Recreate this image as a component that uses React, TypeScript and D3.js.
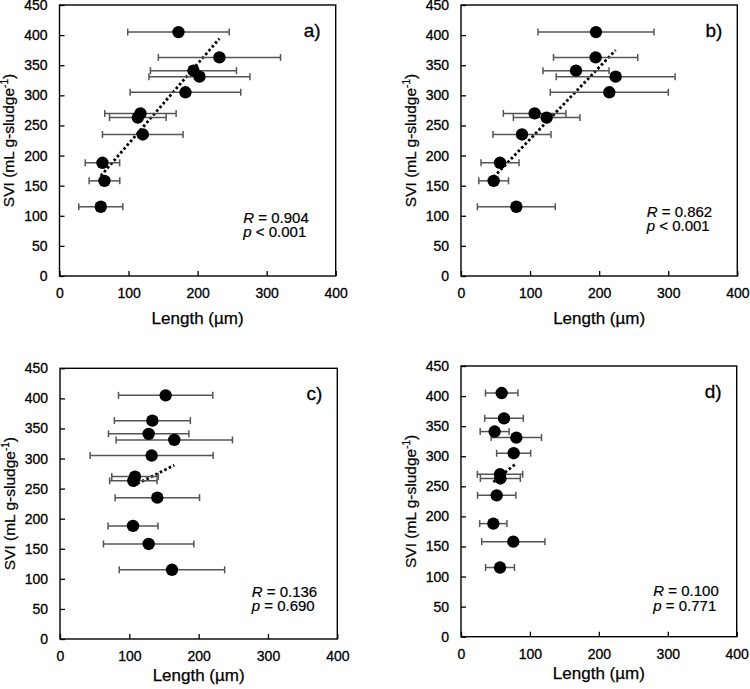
import React, { useRef, useEffect } from "react";
import * as d3 from "d3";

// SVI of the 11 samples (shared by all four panels)
const svi = [405, 363, 341, 331, 305, 270, 263, 235, 188, 158, 115];

// mean filament length and SD per panel
const lengthA = [172.3, 231.6, 194, 202.7, 182.4, 117.2, 113.4, 120.6, 62.2, 65.1, 59.8];
const sdA = [73.5, 88.5, 62.3, 73.1, 80.1, 51.7, 41, 58.4, 24.9, 22.2, 31.9];

const lengthB = [195.4, 194.9, 166.5, 223.9, 214.7, 106.6, 124, 88.3, 56.5, 47.3, 80.1];
const sdB = [84, 61, 47.8, 86.1, 85.4, 45.3, 48.2, 42, 27.5, 21.5, 56.4];

const lengthC = [152.4, 133.2, 127.9, 164.9, 132.2, 108.2, 105.8, 140.4, 105.3, 127.9, 161.5];
const sdC = [68, 54.8, 58, 83.9, 88.7, 33.5, 34.2, 60.9, 36, 65.2, 76];

const lengthD = [59, 62.4, 48.8, 80.3, 76.4, 56.6, 57.1, 51.8, 46.9, 75.9, 56.6];
const sdD = [23.5, 28, 21, 36.5, 24.7, 32.9, 29, 27.8, 19.8, 45.9, 21];

const panelLabels = ["a)", "b)", "c)", "d)"];
const rValues = ["0.904", "0.862", "0.136", "0.100"];
const pValues = ["< 0.001", "< 0.001", "= 0.690", "= 0.771"];

const xTicks = [0, 100, 200, 300, 400];
const yTicks = [0, 50, 100, 150, 200, 250, 300, 350, 400, 450];

// plot boxes in page pixels
const boxes = [
  { left: 59.5, right: 335.7, top: 5, bottom: 276, statDx: 92.4, statDy: 53.5, titleDy: 48 },
  { left: 461, right: 737.3, top: 5, bottom: 276, statDx: 90.6, statDy: 59.3, titleDy: 48 },
  { left: 60, right: 337.3, top: 368.3, bottom: 639, statDx: 85.6, statDy: 42.5, titleDy: 42 },
  { left: 461, right: 736.7, top: 366, bottom: 636.7, statDx: 83.4, statDy: 40.7, titleDy: 42 },
];

const FONT = "'Liberation Sans', Arial, sans-serif";

export default function App() {
  const svgRef = useRef<SVGSVGElement>(null);

  useEffect(() => {
    if (!svgRef.current) return;
    const svg = d3.select(svgRef.current);
    svg.selectAll("*").remove();

    const lengths = [lengthA, lengthB, lengthC, lengthD];
    const sds = [sdA, sdB, sdC, sdD];

    boxes.forEach((b, i) => {
      const xs = lengths[i];
      const sd = sds[i];
      const x = d3.scaleLinear().domain([0, 400]).range([b.left, b.right]);
      const y = d3.scaleLinear().domain([0, 450]).range([b.bottom, b.top]);
      const g = svg.append("g").attr("font-family", FONT);

      // frame
      g.append("rect")
        .attr("x", b.left).attr("y", b.top)
        .attr("width", b.right - b.left).attr("height", b.bottom - b.top)
        .attr("fill", "none").attr("stroke", "#000").attr("stroke-width", 1.4);

      // axes, ticks inside
      const xa = g.append("g").attr("transform", `translate(0,${b.bottom})`)
        .call(d3.axisBottom(x).tickValues(xTicks).tickSizeInner(-5).tickSizeOuter(0).tickPadding(12));
      xa.select(".domain").remove();
      xa.selectAll("line").attr("stroke", "#000").attr("stroke-width", 1.3);
      xa.selectAll("text").attr("font-size", 14).attr("font-family", FONT).attr("fill", "#000")
        .attr("stroke", "#000").attr("stroke-width", 0.3);

      const ya = g.append("g").attr("transform", `translate(${b.left},0)`)
        .call(d3.axisLeft(y).tickValues(yTicks).tickSizeInner(-5).tickSizeOuter(0).tickPadding(12));
      ya.select(".domain").remove();
      ya.selectAll("line").attr("stroke", "#000").attr("stroke-width", 1.3);
      ya.selectAll("text").attr("font-size", 14).attr("font-family", FONT).attr("fill", "#000")
        .attr("stroke", "#000").attr("stroke-width", 0.3);

      // axis titles
      g.append("text")
        .attr("x", (b.left + b.right) / 2).attr("y", b.bottom + b.titleDy)
        .attr("text-anchor", "middle").attr("font-size", 17)
        .attr("stroke", "#000").attr("stroke-width", 0.25)
        .text("Length (µm)");

      const yt = g.append("text")
        .attr("transform", `translate(${b.left - 45.5},${(b.top + b.bottom) / 2}) rotate(-90)`)
        .attr("text-anchor", "middle").attr("font-size", 15.5)
        .attr("stroke", "#000").attr("stroke-width", 0.25);
      yt.append("tspan").text("SVI (mL g-sludge");
      yt.append("tspan").attr("font-size", 10).attr("dy", -6).text("-1");
      yt.append("tspan").attr("dy", 6).text(")");

      // regression line (least squares)
      const mx = d3.mean(xs)!;
      const my = d3.mean(svi)!;
      const sxy = d3.sum(xs, (v, k) => (v - mx) * (svi[k] - my));
      const sxx = d3.sum(xs, (v) => (v - mx) ** 2);
      const slope = sxy / sxx;
      const icpt = my - slope * mx;
      const [x0, x1] = d3.extent(xs) as [number, number];
      const line = d3.line<number>().x((v) => x(v)).y((v) => y(icpt + slope * v));
      g.append("path")
        .datum([x0, x1])
        .attr("d", line)
        .attr("fill", "none").attr("stroke", "#000")
        .attr("stroke-width", 2.8).attr("stroke-dasharray", "2.6,2.4");

      // error bars
      const eb = g.append("g").attr("stroke", "#555").attr("stroke-width", 1.5);
      xs.forEach((v, k) => {
        const yy = y(svi[k]);
        eb.append("line").attr("x1", x(v - sd[k])).attr("x2", x(v + sd[k])).attr("y1", yy).attr("y2", yy);
        eb.append("line").attr("x1", x(v - sd[k])).attr("x2", x(v - sd[k])).attr("y1", yy - 3.5).attr("y2", yy + 3.5);
        eb.append("line").attr("x1", x(v + sd[k])).attr("x2", x(v + sd[k])).attr("y1", yy - 3.5).attr("y2", yy + 3.5);
      });

      // points
      g.append("g").selectAll("circle").data(xs).join("circle")
        .attr("cx", (v) => x(v)).attr("cy", (_, k) => y(svi[k]))
        .attr("r", 6.2).attr("fill", "#000");

      // panel label
      g.append("text")
        .attr("x", b.right - 15).attr("y", b.top + 32)
        .attr("text-anchor", "end").attr("font-size", 19)
        .attr("stroke", "#000").attr("stroke-width", 0.3)
        .text(panelLabels[i]);

      // stats
      const sx = b.right - b.statDx;
      const sy = b.bottom - b.statDy;
      const r = g.append("text").attr("x", sx).attr("y", sy).attr("font-size", 15)
        .attr("stroke", "#000").attr("stroke-width", 0.2);
      r.append("tspan").attr("font-style", "italic").text("R");
      r.append("tspan").text(` = ${rValues[i]}`);
      const p = g.append("text").attr("x", sx).attr("y", sy + 14.5).attr("font-size", 15)
        .attr("stroke", "#000").attr("stroke-width", 0.2);
      p.append("tspan").attr("font-style", "italic").text("p");
      p.append("tspan").text(` ${pValues[i]}`);
    });
  }, []);

  return (
    <svg
      ref={svgRef}
      width={750}
      height={689}
      viewBox="0 0 750 689"
      style={{ position: "absolute", left: 0, top: 0, background: "#fff" }}
    />
  );
}
